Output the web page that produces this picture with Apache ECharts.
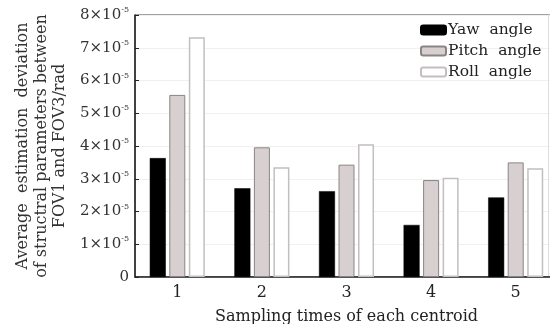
<!DOCTYPE html>
<html>
<head>
<meta charset="utf-8">
<script src="https://cdn.jsdelivr.net/npm/echarts@6/dist/echarts.min.js"></script>
<style>html,body{margin:0;padding:0;background:#fff}#c{width:550px;height:324px}</style>
</head>
<body>
<div id="c"></div>
<script>
var categories = ['1', '2', '3', '4', '5'];
var yawValues = [3.63e-5, 2.71e-5, 2.62e-5, 1.59e-5, 2.43e-5];
var pitchValues = [5.56e-5, 3.96e-5, 3.43e-5, 2.96e-5, 3.50e-5];
var rollValues = [7.32e-5, 3.35e-5, 4.05e-5, 3.03e-5, 3.32e-5];
var seriesNames = ['Yaw angle', 'Pitch angle', 'Roll angle'];
var yTickExponent = -5;
var xTitle = 'Sampling times of each centroid';
var yTitle = 'Average  estimation  deviation\nof structral parameters between\nFOV1 and FOV3/rad';

var FONT = 'DejaVu Serif';
var chart = echarts.init(document.getElementById('c'), null, {renderer: 'canvas'});
chart.setOption({
  animation: false,
  backgroundColor: '#fff',
  grid: {left: 135, top: 15, right: -8, bottom: 47, outerBoundsMode: 'none', containLabel: false,
         show: true, borderColor: '#444', borderWidth: 1, backgroundColor: 'transparent'},
  legend: {
    orient: 'vertical', left: 420, top: 22, padding: 0, itemWidth: 25, itemHeight: 9, itemGap: 5,
    data: seriesNames,
    formatter: function (n) { return n.replace(' ', '  '); },
    textStyle: {fontFamily: FONT, fontSize: 15.5, color: '#222', lineHeight: 16, padding: [0, 0, 0, -3]}
  },
  xAxis: {
    type: 'category', data: categories,
    axisLine: {lineStyle: {color: '#222', width: 1.5}},
    axisTick: {inside: true, alignWithLabel: true, length: 4, lineStyle: {color: '#222'}},
    axisLabel: {fontFamily: FONT, fontSize: 16, color: '#222', margin: 8},
    name: xTitle, nameLocation: 'middle', nameGap: 32,
    nameTextStyle: {fontFamily: FONT, fontSize: 16, color: '#222'}
  },
  yAxis: [{
    type: 'value', min: 0, max: 8e-5, interval: 1e-5,
    axisLine: {show: true, lineStyle: {color: '#222', width: 1.5}},
    axisTick: {show: true, inside: true, length: 4, lineStyle: {color: '#222'}},
    splitLine: {lineStyle: {color: '#f0f0f0'}},
    axisLabel: {
      margin: 6,
      formatter: function (v) {
        if (v === 0) return '{b|0}';
        var m = Math.round(v / Math.pow(10, yTickExponent));
        return '{b|' + m + '×10}{s|' + yTickExponent + '}';
      },
      rich: {
        b: {fontFamily: FONT, fontSize: 15, color: '#333'},
        s: {fontFamily: FONT, fontSize: 8, color: '#333', padding: [0, 0, 10, 0]}
      }
    },
    name: yTitle, nameLocation: 'middle', nameGap: 61, nameRotate: 90,
    nameTextStyle: {fontFamily: FONT, fontSize: 16, color: '#333', lineHeight: 18.5, align: 'center'}
  }, {
    type: 'value', min: 0, max: 8e-5, interval: 1e-5, position: 'right', offset: -10,
    axisLine: {show: true, lineStyle: {color: '#ddd', width: 1}},
    axisTick: {show: false}, axisLabel: {show: false}, splitLine: {show: false}
  }],
  series: [
    {name: seriesNames[0], type: 'bar', data: yawValues, barWidth: 16, barGap: '22%',
     itemStyle: {color: '#000', borderColor: '#000', borderWidth: 0.5}},
    {name: seriesNames[1], type: 'bar', data: pitchValues, barWidth: 16, barGap: '22%',
     itemStyle: {color: '#d8d0d0', borderColor: '#8a8484', borderWidth: 1}},
    {name: seriesNames[2], type: 'bar', data: rollValues, barWidth: 16, barGap: '22%',
     itemStyle: {color: '#fff', borderColor: '#c4bfbf', borderWidth: 1.5}}
  ]
});
</script>
</body>
</html>
